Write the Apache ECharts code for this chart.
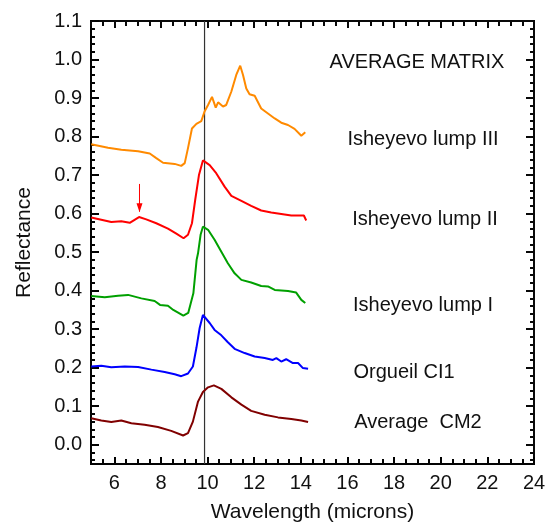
<!DOCTYPE html>
<html>
<head>
<meta charset="utf-8">
<script src="https://cdn.jsdelivr.net/npm/echarts@6/dist/echarts.min.js"></script>
<style>
	html, body { margin: 0; padding: 0; background: #fff; }
	#chart { width: 550px; height: 523px; }
</style>
</head>
<body>
<div id="chart"></div>
<script>
	// spectra (wavelength in microns, reflectance)
	var lump3Wave = [5.01, 5.73, 6.30, 7.02, 7.52, 7.80, 8.09, 8.59, 8.87, 9.02, 9.16, 9.33, 9.52, 9.73, 9.87, 10.02, 10.19, 10.35, 10.45, 10.66, 10.80, 11.02, 11.23, 11.40, 11.52, 11.66, 11.80, 12.02, 12.30, 12.59, 12.88, 13.16, 13.45, 13.73, 14.02, 14.19];
	var lump3Refl = [0.780, 0.771, 0.766, 0.762, 0.756, 0.744, 0.732, 0.729, 0.724, 0.731, 0.770, 0.821, 0.833, 0.840, 0.865, 0.882, 0.903, 0.875, 0.889, 0.878, 0.882, 0.917, 0.960, 0.984, 0.960, 0.925, 0.910, 0.906, 0.873, 0.860, 0.847, 0.836, 0.830, 0.820, 0.802, 0.811];

	var lump2Wave = [5.01, 5.44, 5.87, 6.30, 6.66, 7.06, 7.37, 7.80, 8.30, 8.66, 8.97, 9.16, 9.33, 9.47, 9.63, 9.80, 9.87, 10.09, 10.37, 10.73, 11.02, 11.45, 11.87, 12.30, 12.73, 13.16, 13.59, 13.88, 14.13, 14.23];
	var lump2Refl = [0.590, 0.584, 0.578, 0.580, 0.576, 0.591, 0.585, 0.575, 0.561, 0.548, 0.536, 0.545, 0.575, 0.636, 0.700, 0.738, 0.739, 0.726, 0.705, 0.670, 0.646, 0.633, 0.620, 0.608, 0.603, 0.599, 0.595, 0.595, 0.595, 0.582];

	var lump1Wave = [5.01, 5.59, 6.16, 6.59, 7.16, 7.73, 7.96, 8.30, 8.53, 8.96, 9.17, 9.39, 9.53, 9.59, 9.70, 9.80, 10.02, 10.30, 10.59, 10.87, 11.16, 11.45, 11.87, 12.30, 12.59, 12.88, 13.45, 13.80, 14.02, 14.19];
	var lump1Refl = [0.386, 0.383, 0.387, 0.389, 0.380, 0.373, 0.363, 0.361, 0.350, 0.335, 0.342, 0.393, 0.480, 0.497, 0.545, 0.566, 0.558, 0.532, 0.501, 0.471, 0.445, 0.428, 0.421, 0.412, 0.411, 0.402, 0.399, 0.395, 0.376, 0.368];

	var orgueilWave = [5.01, 5.44, 5.87, 6.45, 7.02, 7.59, 8.16, 8.59, 8.87, 9.16, 9.37, 9.52, 9.66, 9.80, 9.87, 10.09, 10.30, 10.59, 10.87, 11.16, 11.59, 12.02, 12.45, 12.80, 12.95, 13.16, 13.37, 13.66, 13.88, 14.09, 14.31];
	var orgueilRefl = [0.203, 0.205, 0.201, 0.203, 0.202, 0.195, 0.189, 0.183, 0.178, 0.185, 0.203, 0.251, 0.303, 0.337, 0.339, 0.316, 0.298, 0.284, 0.266, 0.249, 0.238, 0.229, 0.225, 0.220, 0.225, 0.216, 0.222, 0.212, 0.212, 0.199, 0.197];

	var cm2Wave = [5.01, 5.44, 5.87, 6.30, 6.73, 7.30, 7.87, 8.44, 8.95, 9.16, 9.37, 9.59, 9.80, 10.02, 10.27, 10.59, 11.02, 11.45, 11.87, 12.45, 13.02, 13.59, 14.02, 14.31];
	var cm2Refl = [0.069, 0.063, 0.059, 0.063, 0.056, 0.052, 0.046, 0.036, 0.024, 0.030, 0.060, 0.112, 0.137, 0.149, 0.154, 0.145, 0.123, 0.104, 0.088, 0.078, 0.071, 0.067, 0.063, 0.059];

	var curveNames = ['Isheyevo lump III', 'Isheyevo lump II', 'Isheyevo lump I', 'Orgueil CI1', 'Average  CM2'];
	var panelTitle = 'AVERAGE MATRIX';
	var bandCenter = 9.87;
	var arrowWave = 7.08;
	var arrowFrom = 0.677;
	var arrowTo = 0.605;

	var xMin = 5, xMax = 24;
	var yMin = -0.05, yMax = 1.1;
	var xTickLabels = [6, 8, 10, 12, 14, 16, 18, 20, 22, 24];
	var yTickLabels = [0.0, 0.1, 0.2, 0.3, 0.4, 0.5, 0.6, 0.7, 0.8, 0.9, 1.0, 1.1];

	var FONT = '"Liberation Sans", Arial, sans-serif';

	// minor tick positions
	var xMinor = [];
	for (var i = 0; i <= 38; i++) xMinor.push(5 + i * 0.5);
	var yMinor = [];
	for (var j = -2; j <= 55; j++) yMinor.push(Math.round(j * 2) / 100);

	function blank() { return ''; }

	// each axis gets its own near-black shade
	function xAxisDef(pos, ticks, len, main, col) {
		var labelled = pos === 'bottom' && main;
		return {
			type: 'value', position: pos, min: xMin, max: xMax,
			axisLine: { show: true, onZero: false, lineStyle: { color: col, width: 2 } },
			axisTick: { show: true, inside: true, length: len, customValues: ticks, lineStyle: { color: col, width: 2 } },
			axisLabel: {
				show: true, customValues: xTickLabels, color: '#111', fontSize: 20, fontFamily: FONT, margin: 9,
				formatter: labelled ? null : blank
			},
			splitLine: { show: false },
			name: labelled ? 'Wavelength (microns)' : '', nameLocation: 'middle', nameGap: 38,
			nameTextStyle: { color: '#111', fontSize: 21, fontFamily: FONT }
		};
	}

	function yAxisDef(pos, ticks, len, main, col) {
		var labelled = pos === 'left' && main;
		return {
			type: 'value', position: pos, min: yMin, max: yMax,
			axisLine: { show: true, onZero: false, lineStyle: { color: col, width: 2 } },
			axisTick: { show: true, inside: true, length: len, customValues: ticks, lineStyle: { color: col, width: 2 } },
			axisLabel: {
				show: true, customValues: yTickLabels, color: '#111', fontSize: 20, fontFamily: FONT, margin: 9,
				formatter: labelled ? function (v) { return v.toFixed(1); } : blank
			},
			splitLine: { show: false },
			name: labelled ? 'Reflectance' : '', nameLocation: 'middle', nameGap: 56,
			nameTextStyle: { color: '#111', fontSize: 21, fontFamily: FONT }
		};
	}

	function zip(xs, ys) {
		var out = [];
		for (var i = 0; i < xs.length; i++) out.push([xs[i], ys[i]]);
		return out;
	}

	function line(xs, ys, color) {
		return { type: 'line', data: zip(xs, ys), showSymbol: false, lineStyle: { color: color, width: 2 } };
	}

	var series = [
		// band centre line
		{ type: 'line', data: [[bandCenter, yMin], [bandCenter, yMax]], showSymbol: false, lineStyle: { color: '#333', width: 1.2 } },
		line(lump3Wave, lump3Refl, '#ff8a00'),
		line(lump2Wave, lump2Refl, '#ff0000'),
		line(lump1Wave, lump1Refl, '#00a000'),
		line(orgueilWave, orgueilRefl, '#0000ff'),
		line(cm2Wave, cm2Refl, '#800000'),
		// arrow over the 7 micron feature
		{
			type: 'line', showSymbol: true,
			lineStyle: { color: '#ff0000', width: 1 }, itemStyle: { color: '#ff0000' },
			data: [
				{ value: [arrowWave, arrowFrom], symbol: 'none' },
				{ value: [arrowWave, arrowTo], symbol: 'triangle', symbolSize: [6, 9], symbolRotate: 180, symbolOffset: [0, -4] }
			]
		}
	];

	// annotation texts, centred on the given points
	var labelPos = [[423, 129], [425, 209], [423, 295], [404, 362], [418, 412]];
	var titles = [{
		text: panelTitle, left: 417, top: 52, textAlign: 'center', padding: 0,
		textStyle: { color: '#111', fontSize: 20, fontWeight: 'normal', fontFamily: FONT }
	}];
	for (var k = 0; k < curveNames.length; k++) {
		titles.push({
			text: curveNames[k], left: labelPos[k][0], top: labelPos[k][1], textAlign: 'center', padding: 0,
			textStyle: { color: '#111', fontSize: 20, fontWeight: 'normal', fontFamily: FONT }
		});
	}

	var myChart = echarts.init(document.getElementById('chart'));
	myChart.setOption({
		animation: false,
		title: titles,
		grid: {
			left: 91, right: 16, top: 21, bottom: 59, outerBoundsMode: 'none',
			show: true, borderColor: '#000', borderWidth: 2, backgroundColor: 'transparent'
		},
		xAxis: [
			xAxisDef('bottom', xTickLabels, 7, true, '#000000'),
			xAxisDef('bottom', xMinor, 5, false, '#030303'),
			xAxisDef('top', xTickLabels, 7, true, '#060606'),
			xAxisDef('top', xMinor, 5, false, '#090909')
		],
		yAxis: [
			yAxisDef('left', yTickLabels, 8, true, '#010101'),
			yAxisDef('left', yMinor, 4, false, '#040404'),
			yAxisDef('right', yTickLabels, 8, true, '#070707'),
			yAxisDef('right', yMinor, 4, false, '#0a0a0a')
		],
		series: series
	});
</script>
</body>
</html>
